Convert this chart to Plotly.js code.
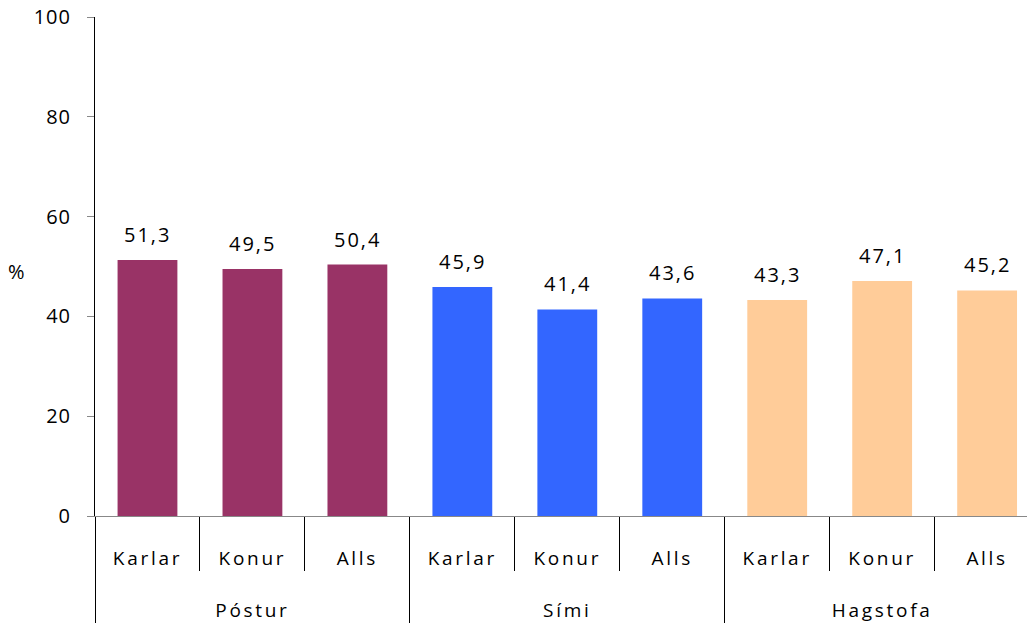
<!DOCTYPE html>
<html>
<head>
<meta charset="utf-8">
<script src="https://cdn.plot.ly/plotly-3.0.1.min.js"></script>
<style>
  html, body { margin: 0; padding: 0; background: #fff; }
  #chart { width: 1027px; height: 623px; }
  .xtick text, .xtick2 text { letter-spacing: 2.7px; }
  .ytick text { letter-spacing: 1px; }
  .annotation-text { letter-spacing: 2px; }
</style>
</head>
<body>
<div id="chart"></div>
<script>
// source groups and sub categories
var groups = ['Póstur', 'Póstur', 'Póstur', 'Sími', 'Sími', 'Sími', 'Hagstofa', 'Hagstofa', 'Hagstofa'];
var subCats = ['Karlar', 'Konur', 'Alls', 'Karlar', 'Konur', 'Alls', 'Karlar', 'Konur', 'Alls'];
var values = [51.3, 49.5, 50.4, 45.9, 41.4, 43.6, 43.3, 47.1, 45.2];

var groupColors = {'Póstur': '#993366', 'Sími': '#3366FF', 'Hagstofa': '#FFCC99'};
var barColors = groups.map(g => groupColors[g]);

var font = {family: 'Open Sans, Lato, sans-serif', size: 20, color: '#000'};

// leading line breaks push the labels lower, like the original
var trace = [{
  x: [groups.map(g => '<br><br>' + g), subCats.map(s => '<br>' + s)],
  y: values,
  type: 'bar',
  width: 0.57,
  marker: {color: barColors},
  hoverinfo: 'skip'
}];

// value labels sit a bit above each bar
var valueLabels = values.map((v, i) => ({
  x: i,
  y: v,
  text: v.toFixed(1).replace('.', ','),
  xanchor: 'center',
  yanchor: 'bottom',
  yshift: 10,
  showarrow: false,
  font: font
}));

var layout = {
  width: 1027,
  height: 623,
  margin: {l: 95, r: 0, t: 17, b: 107},
  separators: ', ',
  font: font,
  showlegend: false,
  plot_bgcolor: '#fff',
  paper_bgcolor: '#fff',
  xaxis: {
    type: 'multicategory',
    range: [-0.5, 8.38],
    showline: true,
    linecolor: '#888',
    ticks: 'outside',
    tickson: 'boundaries',
    ticklen: 54,
    tickcolor: '#000',
    showdividers: true,
    dividercolor: '#000',
    dividerwidth: 1,
    showgrid: false,
    tickfont: {family: font.family, size: 19, color: '#000'}
  },
  yaxis: {
    range: [0, 100],
    dtick: 20,
    showline: true,
    linecolor: '#000',
    ticks: 'outside',
    ticklen: 7,
    tickcolor: '#888',
    showgrid: false,
    zeroline: false,
    ticklabelstandoff: 12
  },
  annotations: valueLabels.concat([{
    text: '%',
    xref: 'paper', yref: 'paper',
    x: -0.083, y: 0.49,
    xanchor: 'center', yanchor: 'middle',
    showarrow: false,
    font: font
  }])
};

Plotly.newPlot('chart', trace, layout, {displayModeBar: false, staticPlot: true});
</script>
</body>
</html>
